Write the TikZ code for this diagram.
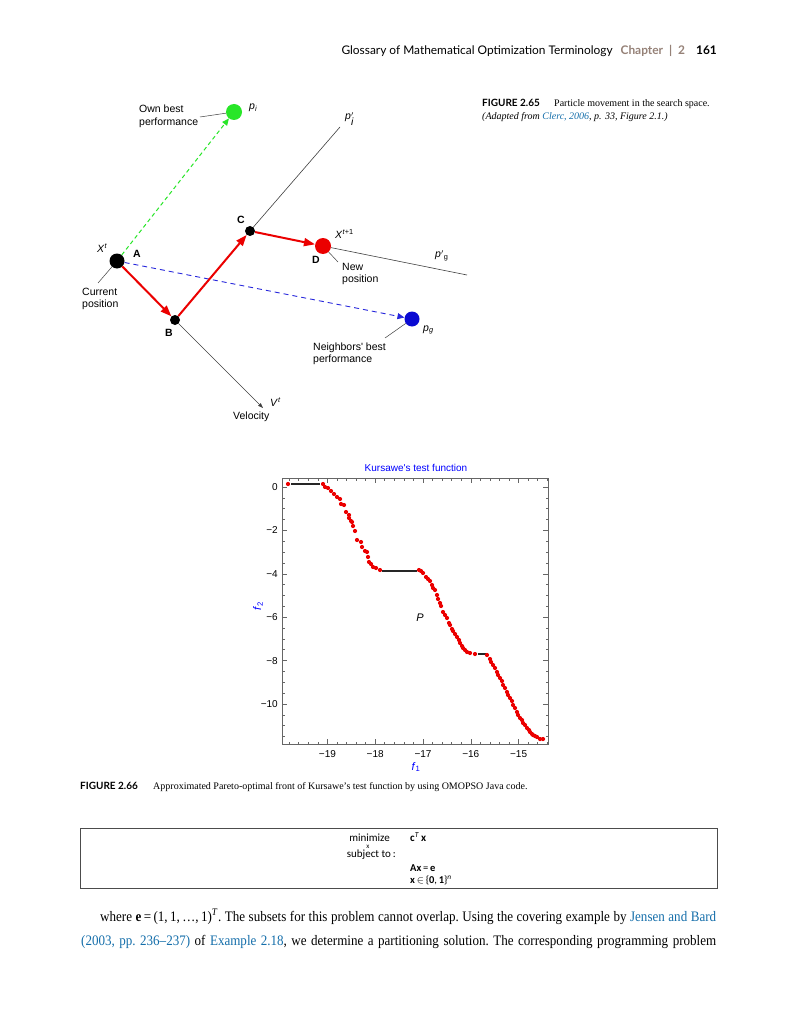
\documentclass[tikz,border=0pt]{standalone}
\usepackage{fontspec}
\setmainfont{Liberation Serif}
\newfontfamily\arial{Liberation Sans}
\newfontfamily\hdr{Lato}
\newfontfamily\boxfont{Carlito}
\newfontfamily\bodyfont[FakeStretch=0.9,Ligatures=TeX]{Liberation Serif}
\usetikzlibrary{arrows.meta}
\definecolor{linkblue}{RGB}{20,110,170}
\definecolor{chapgray}{RGB}{150,130,120}
\definecolor{mgreen}{RGB}{40,230,40}
\definecolor{mblue}{RGB}{10,10,210}
\definecolor{dblue}{RGB}{40,40,220}
\definecolor{mred}{RGB}{235,0,0}
\newcommand\twol[2]{\begin{tabular}[t]{@{}l@{}}#1\\#2\end{tabular}}
\tikzset{
  lbl/.style={font=\arial\fontsize{10.5}{12.5}\selectfont, inner sep=0, anchor=base west},
  ptlab/.style={font=\arial\bfseries\fontsize{10.5}{12}\selectfont, inner sep=0, anchor=base west},
  dot/.style={circle, inner sep=0, draw=none},
  redarrow/.style={mred, line width=2pt, -{Triangle[length=11pt,width=8pt]}},
  leader/.style={draw=black!75, line width=0.5pt},
  thinline/.style={draw=black!75, line width=0.6pt},
  plotframe/.style={draw=black!60, line width=0.7pt},
  tick/.style={draw=black!60, line width=0.6pt},
  ticklab/.style={font=\arial\fontsize{10}{12}\selectfont, inner sep=0},
  blackseg/.style={draw=black!85, line width=1.3pt},
  rdot/.style={fill=mred},
  boxtxt/.style={font=\boxfont\fontsize{11}{13}\selectfont, inner sep=0},
}
\begin{document}
\begin{tikzpicture}[x=1pt,y=-1pt]
\useasboundingbox (0,0) rectangle (800,1024);
\fill[white] (0,0) rectangle (800,1024);

% header
\node[anchor=base east, inner sep=0, font=\hdr\fontsize{11.9}{13}\selectfont] (hdr) at (717,55)
  {Glossary of Mathematical Optimization Terminology\hspace{8pt}\textcolor{chapgray}{\bfseries Chapter\hspace{6pt}|\hspace{6pt}2}\hspace{11pt}\bfseries 161};

% ---------- Figure 2.65 ----------
\node[dot, fill=black, minimum size=15pt] (A) at (117,261) {};
\node[dot, fill=black, minimum size=10pt] (B) at (175,320) {};
\node[dot, fill=black, minimum size=10pt] (C) at (250,231) {};
\node[dot, fill=mred, minimum size=16pt] (D) at (323,246) {};
\node[dot, fill=mgreen, minimum size=16pt] (pi) at (234,112) {};
\node[dot, fill=mblue, minimum size=15pt] (pg) at (412,319) {};
\coordinate (piend) at (340,127);
\coordinate (pgend) at (467,275);
\coordinate (vend) at (263,408);
\coordinate (obl) at (200,117);
\coordinate (cpl) at (98,283);
\coordinate (npl) at (338,262);
\coordinate (nbl) at (385,338);

\draw[mgreen, line width=1pt, dash pattern=on 4pt off 3pt, -{Triangle[length=7pt,width=6pt]}] (A) -- (pi);
\draw[dblue, line width=0.9pt, dash pattern=on 5pt off 4pt, -{Triangle[length=7pt,width=6pt]}] (A) -- (pg);
\draw[thinline] (C) -- (piend);
\draw[thinline] (D) -- (pgend);
\draw[thinline, -{Triangle[length=5pt,width=3.5pt]}] (B) -- (vend);
\draw[redarrow] (A) -- (B);
\draw[redarrow] (B) -- (C);
\draw[redarrow] (C) -- (D);
\draw[leader] (obl) -- (pi);
\draw[leader] (A) -- (cpl);
\draw[leader] (D) -- (npl);
\draw[leader] (pg) -- (nbl);

\node[ptlab] (lA) at (133,258) {A};
\node[ptlab] (lB) at (165,336) {B};
\node[ptlab] (lC) at (237,223) {C};
\node[ptlab] (lD) at (312,263) {D};
\node[lbl] (xt) at (97,252) {\textit{X}\textsuperscript{\textit{t}}};
\node[lbl] (xt1) at (335,238) {\textit{X}\textsuperscript{\textit{t}+1}};
\node[lbl] (lpi) at (249,110) {\textit{p}\textsubscript{\textit{i}}};
\node[lbl] (lpg) at (423,331) {\textit{p}\textsubscript{\textit{g}}};
\node[lbl] (lpip) at (345,120) {\textit{p}$'_{\textit{\arial i}}$};
\node[lbl] (lpgp) at (435,258) {\textit{p}$'$\textsubscript{g}};
\node[lbl] (vt) at (270,406) {\textit{V}\textsuperscript{\textit{t}}};
\node[lbl] (vel) at (233,419) {Velocity};
\node[lbl] (own) at (139,113) {\twol{Own best}{performance}};
\node[lbl] (cur) at (82,295) {\twol{Current}{position}};
\node[lbl] (new) at (342,270) {\twol{New}{position}};
\node[lbl] (nb) at (313,350) {\twol{Neighbors' best}{performance}};

\node[anchor=base west, inner sep=0, font=\fontsize{10}{13}\selectfont] (cap1) at (482,107)
  {\makebox[72pt][l]{\hdr\bfseries FIGURE 2.65}Particle movement in the search space.};
\node[anchor=base west, inner sep=0, font=\fontsize{10}{13}\selectfont] (cap1b) at (482,120)
  {\textit{(Adapted from \textcolor{linkblue}{Clerc, 2006}, p. 33, Figure 2.1.)}};

% ---------- Figure 2.66 (plot) ----------
\draw[plotframe] (282,478) rectangle (548,744);
\foreach \v in {-19.8,-19.6,...,-14.4} {
  \draw[tick] ({1235.6+47.8*\v},744) -- ++(0,-2.5);
  \draw[tick] ({1235.6+47.8*\v},478) -- ++(0,2.5);
}
\foreach \v/\t in {-19/−19,-18/−18,-17/−17,-16/−16,-15/−15} {
  \draw[tick] ({1235.6+47.8*\v},744) -- ++(0,-5);
  \draw[tick] ({1235.6+47.8*\v},478) -- ++(0,5);
  \node[ticklab, anchor=north] at ({1235.6+47.8*\v},750) {\t};
}
\foreach \v in {0,-0.5,...,-11.5} {
  \draw[tick] (282,{487-21.7*\v}) -- ++(2.5,0);
  \draw[tick] (548,{487-21.7*\v}) -- ++(-2.5,0);
}
\foreach \v/\t in {0/0,-2/−2,-4/−4,-6/−6,-8/−8,-10/−10} {
  \draw[tick] (282,{487-21.7*\v}) -- ++(5,0);
  \draw[tick] (548,{487-21.7*\v}) -- ++(-5,0);
  \node[ticklab, anchor=east] at (278,{487-21.7*\v}) {\t};
}
\draw[blackseg] (291,484) -- (320,484);
\draw[blackseg] (382,571) -- (417,571);
\draw[blackseg] (478,654) -- (486,654);
\foreach \p in {(288,484),
  (323,484),(325,487),(328,488),(331,491),(334,494),(337,497),(340,499),(341,504),(344,505),(346,512),(349,515),(349,518),(351,521),(352,522),(353,526),(355,531),(357,540),(361,542),(362,547),(365,551),(367,552),(368,557),(369,562),(371,564),(373,567),(376,568),(380,570),
  (419,570),(421,571),(423,573),(426,577),(428,579),(430,581),(432,585),(433,588),(435,590),(437,595),(438,599),(440,603),(441,606),(443,612),(445,615),(447,618),(449,623),(450,625),(452,629),(453,631),(455,634),(457,637),(459,640),(460,643),(462,646),(463,648),(465,650),(467,652),(470,653),(475,654),
  (487,655),(490,659),(491,662),(493,665),(495,668),(497,672),(498,675),(500,678),(502,681),(503,685),(505,688),(507,692),(508,695),(510,698),(512,701),(513,705),(515,708),(517,712),(518,715),(520,718),(522,720),(523,723),(525,725),(527,728),(529,730),(530,732),(532,734),(533,735),(535,736),(537,737),(540,739),(543,739)}
  \fill[rdot] \p circle (2.1pt);
\node[font=\arial\fontsize{10}{12}\selectfont, text=blue, inner sep=0] (ptitle) at (416,468) {Kursawe's test function};
\node[font=\arial\fontsize{11}{12}\selectfont, text=blue, inner sep=0, rotate=90] (f2) at (258,606) {\textit{f}\textsubscript{2}};
\node[font=\arial\fontsize{11}{12}\selectfont, text=blue, inner sep=0] (f1) at (416,767) {\textit{f}\textsubscript{1}};
\node[font=\arial\itshape\fontsize{11}{12}\selectfont, inner sep=0] (P) at (420,618) {P};

\node[anchor=base west, inner sep=0, font=\fontsize{10}{13}\selectfont] (cap2) at (80,789)
  {\makebox[73pt][l]{\hdr\bfseries FIGURE 2.66}Approximated Pareto-optimal front of Kursawe’s test function by using OMOPSO Java code.};

% ---------- box ----------
\draw[draw=black!70, line width=0.8pt] (80,828) rectangle (717,888);
\node[boxtxt, anchor=base east] (min) at (390,841) {minimize};
\node[boxtxt, font=\boxfont\fontsize{7}{8}\selectfont, anchor=base] (minx) at (368,848) {x};
\node[boxtxt, anchor=base east] (subj) at (396,857) {subject to\,:};
\node[boxtxt, anchor=base west] (obj) at (410,841) {\textbf{c}\textsuperscript{\textit{T}}\,\textbf{x}};
\node[boxtxt, font=\boxfont\fontsize{10.5}{12}\selectfont, anchor=base west] (c1) at (410,871) {\textbf{Ax}\,=\,\textbf{e}};
\node[boxtxt, font=\boxfont\fontsize{10.5}{12}\selectfont, anchor=base west] (c2) at (410,883) {\textbf{x}\,$\in$\,\{\textbf{0},\,\textbf{1}\}\textsuperscript{\textit{n}}};

% ---------- body text ----------
\node[anchor=base west, inner sep=0] (body) at (81,921)
  {\parbox[t]{635pt}{\bodyfont\fontsize{14.5}{24}\selectfont\frenchspacing\parfillskip=0pt\hspace*{19pt}where \textbf{e}\,=\,(1,\,1,\,\ldots,\,1)\textsuperscript{\textit{T}}. The subsets for this problem cannot overlap. Using the covering example by \textcolor{linkblue}{Jensen and Bard}\linebreak \textcolor{linkblue}{(2003, pp.~236--237)} of \textcolor{linkblue}{Example 2.18}, we determine a partitioning solution. The corresponding programming problem\par}};
\end{tikzpicture}
\end{document}
